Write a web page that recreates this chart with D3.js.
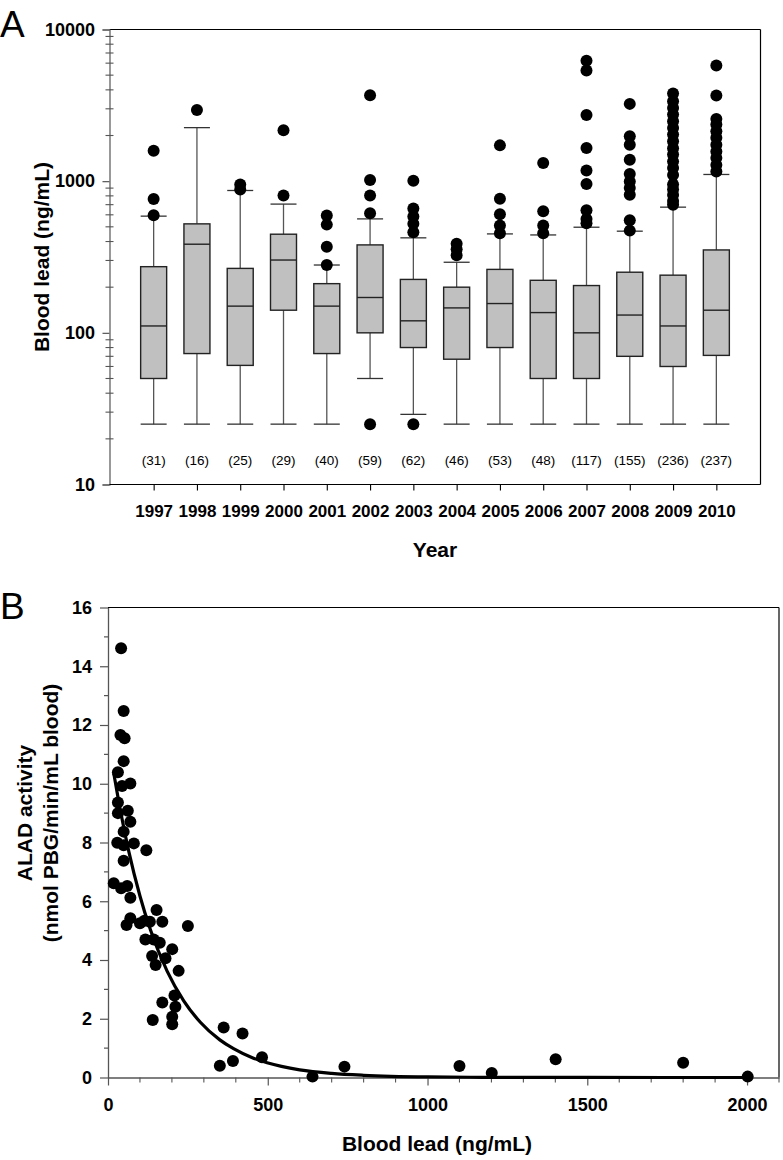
<!DOCTYPE html>
<html><head><meta charset="utf-8">
<script src="https://cdn.jsdelivr.net/npm/d3@7"></script>
<style>
html,body{margin:0;padding:0;background:#fff;}
svg{display:block;font-family:"Liberation Sans",Arial,sans-serif;}
</style></head>
<body>
<svg id="chart" width="783" height="1160"></svg>
<script>
// ---------- Panel A data ----------
const years = [1997,1998,1999,2000,2001,2002,2003,2004,2005,2006,2007,2008,2009,2010];
const counts = [31,16,25,29,40,59,62,46,53,48,117,155,236,237];
const q1 = [50,73,61,141,73,100,80,67,80,50,50,70,60,71];
const medians = [111,384,150,302,150,171,120,146,156,136,100,131,111,141];
const q3 = [273,523,266,447,211,380,225,200,262,222,205,251,240,352];
const whiskerLow = [25,25,25,25,25,50,29,25,25,25,25,25,25,25];
const whiskerHigh = [588,2254,868,706,280,564,423,292,449,442,497,468,674,1107];
const outliers = [
  [597,762,1588],
  [2951],
  [880,950],
  [804,2163],
  [280,370,517,593],
  [25,615,804,1017,3684],
  [25,461,523,584,660,1006],
  [325,356,386],
  [454,510,606,765,1722],
  [454,510,634,1317],
  [528,564,644,957,1177,1655,2733,5366,6221],
  [472,552,813,900,995,1114,1385,1740,1975,3233],
  [700,740,810,880,950,1100,1220,1350,1500,1650,1830,2030,2240,2480,2750,3040,3360,3780],
  [1160,1280,1420,1570,1740,1930,2130,2360,2570,3670,5790]
];
const yTicksA = [10,100,1000,10000];

// ---------- Panel B data ----------
const bloodLead = [41,49,39,52,49,31,70,44,31,31,62,70,49,29,49,81,120,49,18,41,60,70,58,70,100,114,131,152,170,250,117,143,162,138,149,180,201,221,208,211,170,201,201,140,362,421,350,391,482,640,740,1100,1201,1401,1800,2002];
const aladActivity = [14.61,12.48,11.66,11.55,10.77,10.39,10.01,9.92,9.36,9.0,9.08,8.71,8.37,7.99,7.91,7.97,7.74,7.38,6.61,6.44,6.52,6.12,5.19,5.42,5.25,5.34,5.30,5.70,5.30,5.16,4.70,4.70,4.59,4.14,3.83,4.06,4.37,3.63,2.79,2.41,2.55,2.07,1.81,1.96,1.70,1.50,0.40,0.56,0.69,0.03,0.37,0.39,0.15,0.62,0.50,0.03];
const fitX = [18,40,65,100,133,185,237,289,350,393,450,498,600,700,800,1000,1200,1500,2000];
const fitY = [10.36,9.02,7.70,6.18,5.02,3.62,2.61,1.88,1.28,0.98,0.68,0.50,0.26,0.14,0.075,0.02,0.006,0.001,0.0];
const xTicksB = [0,500,1000,1500,2000];
const yTicksB = [0,2,4,6,8,10,12,14,16];

const svg = d3.select("#chart");
const FONT = '"Liberation Sans",Arial,sans-serif';
const axisCol = "#555";

// ================= PANEL A =================
const A = {l:109.5, r:760.5, t:29.5, b:484.5};
const xA = d3.scalePoint().domain(years).range([A.l, A.r]).padding(1.02);
const yA = d3.scaleLog().domain([10,10000]).range([A.b, A.t]);
const gA = svg.append("g");

gA.append("line").attr("x1",A.l).attr("x2",A.r).attr("y1",A.t).attr("y2",A.t).attr("stroke","#000").attr("stroke-width",1.2);
gA.append("line").attr("x1",A.r).attr("x2",A.r).attr("y1",A.t).attr("y2",A.b).attr("stroke","#000").attr("stroke-width",1.2);

const yAxA = gA.append("g").attr("transform",`translate(${A.l},0)`)
  .call(d3.axisLeft(yA).tickValues(yTicksA).tickFormat(d3.format("d")).tickSize(7).tickPadding(7.5));
yAxA.select(".domain").attr("stroke",axisCol).attr("stroke-width",1.2);
yAxA.selectAll(".tick line").attr("stroke",axisCol).attr("stroke-width",1.2);
yAxA.selectAll("text").attr("font-family",FONT).attr("font-size",18).attr("font-weight","bold").attr("fill","#000");
const minorA = [];
[10,100,1000].forEach(d=>{for(let k=2;k<=9;k++) minorA.push(d*k);});
gA.selectAll("line.minorA").data(minorA).join("line")
  .attr("x1",A.l-4).attr("x2",A.l+4).attr("y1",d=>yA(d)).attr("y2",d=>yA(d))
  .attr("stroke",axisCol).attr("stroke-width",1.1);

const xAxA = gA.append("g").attr("transform",`translate(0,${A.b})`)
  .call(d3.axisBottom(xA).tickSize(6).tickPadding(14).tickSizeOuter(0));
xAxA.select(".domain").attr("stroke","#000").attr("stroke-width",1.2)
  .attr("d",`M${A.l},0H${A.r}`);
xAxA.selectAll(".tick line").attr("stroke","#000").attr("stroke-width",1.1);
xAxA.selectAll("text").attr("font-family",FONT).attr("font-size",17).attr("font-weight","bold").attr("fill","#000");

const bw = 26;
const boxes = gA.selectAll("g.box").data(years).join("g").attr("class","box");
boxes.append("line").attr("x1",d=>xA(d)).attr("x2",d=>xA(d))
  .attr("y1",(d,i)=>yA(whiskerLow[i])).attr("y2",(d,i)=>yA(q1[i]))
  .attr("stroke",axisCol).attr("stroke-width",1.3);
boxes.append("line").attr("x1",d=>xA(d)).attr("x2",d=>xA(d))
  .attr("y1",(d,i)=>yA(q3[i])).attr("y2",(d,i)=>yA(whiskerHigh[i]))
  .attr("stroke",axisCol).attr("stroke-width",1.3);
boxes.append("line").attr("x1",d=>xA(d)-bw/2).attr("x2",d=>xA(d)+bw/2)
  .attr("y1",(d,i)=>yA(whiskerLow[i])).attr("y2",(d,i)=>yA(whiskerLow[i]))
  .attr("stroke","#333").attr("stroke-width",1.3);
boxes.append("line").attr("x1",d=>xA(d)-bw/2).attr("x2",d=>xA(d)+bw/2)
  .attr("y1",(d,i)=>yA(whiskerHigh[i])).attr("y2",(d,i)=>yA(whiskerHigh[i]))
  .attr("stroke","#333").attr("stroke-width",1.3);
boxes.append("rect").attr("x",d=>xA(d)-bw/2).attr("width",bw)
  .attr("y",(d,i)=>yA(q3[i])).attr("height",(d,i)=>yA(q1[i])-yA(q3[i]))
  .attr("fill","#c0c0c0").attr("stroke","#222").attr("stroke-width",1.4);
boxes.append("line").attr("x1",d=>xA(d)-bw/2).attr("x2",d=>xA(d)+bw/2)
  .attr("y1",(d,i)=>yA(medians[i])).attr("y2",(d,i)=>yA(medians[i]))
  .attr("stroke","#222").attr("stroke-width",1.4);
const outPts = [];
outliers.forEach((arr,i)=>arr.forEach(v=>outPts.push({yr:years[i],v})));
gA.selectAll("circle.out").data(outPts).join("circle")
  .attr("cx",d=>xA(d.yr)).attr("cy",d=>yA(d.v)).attr("r",6).attr("fill","#000");
gA.selectAll("text.cnt").data(years).join("text")
  .attr("x",d=>xA(d)).attr("y",465).attr("text-anchor","middle")
  .attr("font-family",FONT).attr("font-size",13.5).attr("fill","#000")
  .text((d,i)=>`(${counts[i]})`);

svg.append("text").attr("x",0).attr("y",37).attr("font-family",FONT).attr("font-size",37).text("A");
svg.append("text").attr("transform",`translate(49,${(A.t+A.b)/2}) rotate(-90)`)
  .attr("text-anchor","middle").attr("font-family",FONT).attr("font-size",21).attr("font-weight","bold")
  .text("Blood lead (ng/mL)");
svg.append("text").attr("x",(A.l+A.r)/2).attr("y",557).attr("text-anchor","middle")
  .attr("font-family",FONT).attr("font-size",21).attr("font-weight","bold").text("Year");

// ================= PANEL B =================
const B = {l:108, r:779, t:607.5, b:1077.5};
const xB = d3.scaleLinear().domain([0,2100]).range([B.l, B.r]);
const yB = d3.scaleLinear().domain([0,16]).range([B.b, B.t]);
const gB = svg.append("g");

gB.append("line").attr("x1",B.l).attr("x2",B.r).attr("y1",B.t).attr("y2",B.t).attr("stroke","#000").attr("stroke-width",1.2);
gB.append("line").attr("x1",B.r).attr("x2",B.r).attr("y1",B.t).attr("y2",B.b).attr("stroke","#000").attr("stroke-width",1.2);

const yAxB = gB.append("g").attr("transform",`translate(${B.l},0)`)
  .call(d3.axisLeft(yB).tickValues(yTicksB).tickFormat(d3.format("d")).tickSize(8).tickPadding(8).tickSizeOuter(0));
yAxB.select(".domain").attr("stroke",axisCol).attr("stroke-width",1.3);
yAxB.selectAll(".tick line").attr("stroke",axisCol).attr("stroke-width",1.2);
yAxB.selectAll("text").attr("font-family",FONT).attr("font-size",18).attr("font-weight","bold").attr("fill","#000");
const minorYB = d3.range(1,16,2);
gB.selectAll("line.myb").data(minorYB).join("line")
  .attr("x1",B.l-4).attr("x2",B.l).attr("y1",d=>yB(d)).attr("y2",d=>yB(d))
  .attr("stroke",axisCol).attr("stroke-width",1.2);

const xAxB = gB.append("g").attr("transform",`translate(0,${B.b})`)
  .call(d3.axisBottom(xB).tickValues(xTicksB).tickFormat(d3.format("d")).tickSize(8).tickPadding(13).tickSizeOuter(0));
xAxB.select(".domain").attr("stroke",axisCol).attr("stroke-width",1.3);
xAxB.selectAll(".tick line").attr("stroke",axisCol).attr("stroke-width",1.2);
xAxB.selectAll("text").attr("font-family",FONT).attr("font-size",18).attr("font-weight","bold").attr("fill","#000");
const minorXB = d3.range(100,2101,100).filter(d=>d%500!==0);
gB.selectAll("line.mxb").data(minorXB).join("line")
  .attr("x1",d=>xB(d)).attr("x2",d=>xB(d)).attr("y1",B.b).attr("y2",B.b+5)
  .attr("stroke",axisCol).attr("stroke-width",1.1);

const line = d3.line().x((d,i)=>xB(fitX[i])).y((d,i)=>yB(fitY[i])).curve(d3.curveMonotoneX);
gB.append("path").datum(fitX).attr("d",line).attr("fill","none").attr("stroke","#000").attr("stroke-width",3.2);

gB.selectAll("circle.pt").data(bloodLead).join("circle")
  .attr("cx",d=>xB(d)).attr("cy",(d,i)=>yB(aladActivity[i])).attr("r",6).attr("fill","#000");

svg.append("text").attr("x",0).attr("y",619).attr("font-family",FONT).attr("font-size",37).text("B");
svg.append("text").attr("transform",`translate(32,813) rotate(-90)`)
  .attr("text-anchor","middle").attr("font-family",FONT).attr("font-size",21).attr("font-weight","bold")
  .text("ALAD activity");
svg.append("text").attr("transform",`translate(58,813) rotate(-90)`)
  .attr("text-anchor","middle").attr("font-family",FONT).attr("font-size",21).attr("font-weight","bold")
  .text("(nmol PBG/min/mL blood)");
svg.append("text").attr("x",437).attr("y",1151).attr("text-anchor","middle")
  .attr("font-family",FONT).attr("font-size",21).attr("font-weight","bold").text("Blood lead (ng/mL)");
</script>
</body></html>
